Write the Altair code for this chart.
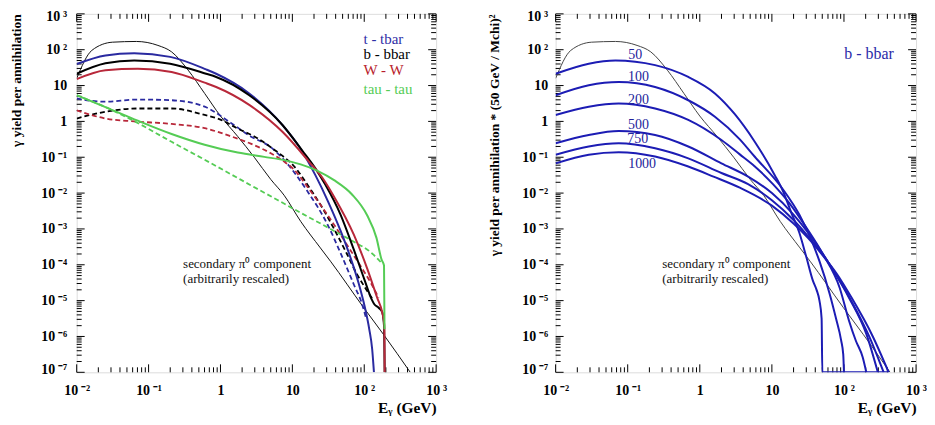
import json
import altair as alt
import numpy as np
import pandas as pd

# ------------------------------------------------------------------
# Values: log10(E / GeV) and log10(yield)
# ------------------------------------------------------------------
# thin black curve: secondary pi0 component (arbitrarily rescaled)
PI0_LOGE = [-2.0, -1.79, -1.5, -1.17, -0.87, -0.68, -0.45, -0.22, 0.0, 0.24, 0.47, 0.7, 0.885, 1.116, 1.39, 1.53, 1.99, 2.27, 2.64]
PI0_LOGY = [1.2, 1.98, 2.21, 2.23, 2.12, 1.94, 1.43, 0.78, 0.15, -0.42, -1.0, -1.62, -2.06, -2.79, -3.53, -3.9, -5.19, -5.95, -7.0]

# left panel, solid curves
TT_LOGE = [-2.0, -1.6, -1.2, -0.7, -0.2, -0.06, 0.4, 0.87, 1.1, 1.32, 1.5, 1.67, 1.8, 1.92, 2.01, 2.07, 2.11, 2.135]
TT_LOGY = [1.60, 1.84, 1.90, 1.80, 1.45, 1.33, 0.78, -0.12, -0.72, -1.5, -2.25, -3.05, -3.75, -4.5, -5.2, -5.8, -6.35, -7.0]
BB_LOGE = [-2.0, -1.6, -1.2, -0.7, -0.2, -0.06, 0.4, 0.862, 1.14, 1.32, 1.46, 1.67, 1.85, 2.0, 2.1, 2.14, 2.2, 2.25, 2.275, 2.284]
BB_LOGY = [1.33, 1.62, 1.70, 1.61, 1.33, 1.24, 0.73, -0.10, -0.82, -1.31, -1.77, -2.6, -3.55, -4.4, -4.95, -5.1, -5.2, -5.32, -5.7, -7.0]
WW_LOGE = [-2.0, -1.6, -1.15, -0.68, -0.22, -0.06, 0.4, 0.862, 1.23, 1.42, 1.58, 1.855, 2.04, 2.18, 2.25, 2.28, 2.284]
WW_LOGY = [1.18, 1.43, 1.47, 1.38, 1.08, 0.96, 0.46, -0.29, -1.12, -1.58, -2.1, -3.16, -4.1, -4.92, -5.33, -5.7, -7.0]
TAU_LOGE = [-2.0, -1.6, -1.15, -0.68, -0.22, 0.24, 0.61, 0.885, 1.116, 1.35, 1.58, 1.83, 2.04, 2.17, 2.24, 2.275, 2.282]
TAU_LOGY = [0.73, 0.40, 0.02, -0.35, -0.65, -0.87, -0.99, -1.08, -1.2, -1.38, -1.64, -2.04, -2.62, -3.25, -3.85, -4.02, -5.8]

# left panel, dashed curves
TT_D_LOGE = [-2.0, -1.61, -1.15, -0.68, -0.22, 0.15, 0.42, 0.7, 0.84, 1.21, 1.49, 1.67, 1.855, 1.97, 2.02]
TT_D_LOGY = [0.64, 0.55, 0.61, 0.59, 0.41, -0.05, -0.42, -0.72, -0.98, -1.95, -2.88, -3.67, -4.55, -5.1, -5.45]
BB_D_LOGE = [-2.0, -1.6, -1.15, -0.68, -0.22, 0.0, 0.24, 0.47, 0.7, 0.885, 1.0, 1.255, 1.39, 1.58, 1.76, 1.9, 2.0, 2.13]
BB_D_LOGY = [0.08, 0.27, 0.36, 0.36, 0.18, 0.05, -0.2, -0.42, -0.72, -1.0, -1.2, -1.9, -2.32, -3.0, -3.7, -4.27, -4.6, -5.0]
WW_D_LOGE = [-2.0, -1.6, -1.2, -0.68, -0.22, 0.15, 0.42, 0.7, 0.885, 1.0, 1.255, 1.58, 1.81, 2.0, 2.09, 2.2]
WW_D_LOGY = [0.31, 0.08, 0.0, -0.07, -0.19, -0.42, -0.62, -0.89, -1.12, -1.3, -1.95, -2.88, -3.6, -4.2, -4.5, -4.92]
TAU_D_LOGE = [-2.0, -1.6, -1.24, -0.68, -0.22, 0.15, 0.42, 0.8, 1.116, 1.53, 1.855, 2.09, 2.24]
TAU_D_LOGY = [0.73, 0.40, 0.05, -0.57, -1.07, -1.48, -1.78, -2.2, -2.55, -3.0, -3.36, -3.65, -3.95]

# right panel: b-bbar for several neutralino masses (GeV), yield * (50 GeV / M)^2
M50_LOGE = [-2.0, -1.54, -1.17, -0.62, -0.16, 0.21, 0.486, 0.76, 1.04, 1.155, 1.27, 1.38, 1.48, 1.57, 1.62, 1.66, 1.69, 1.70, 2.62]
M50_LOGY = [1.33, 1.61, 1.70, 1.57, 1.24, 0.78, 0.2, -0.56, -1.5, -1.95, -2.55, -3.1, -3.8, -4.45, -4.7, -5.0, -5.5, -7.0, -7.0]
M100_LOGE = [-2.0, -1.54, -1.125, -0.62, -0.16, 0.21, 0.555, 0.76, 1.155, 1.38, 1.545, 1.66, 1.80, 1.89, 1.96, 1.99, 2.0]
M100_LOGY = [0.73, 1.01, 1.10, 0.96, 0.59, 0.13, -0.5, -0.98, -1.9, -2.6, -3.3, -3.9, -4.8, -5.5, -6.1, -6.5, -7.0]
M200_LOGE = [-2.0, -1.54, -1.125, -0.62, -0.16, 0.30, 0.555, 0.76, 1.015, 1.25, 1.48, 1.71, 1.94, 2.07, 2.165, 2.26, 2.31]
M200_LOGY = [0.18, 0.41, 0.50, 0.36, 0.04, -0.52, -0.92, -1.25, -1.75, -2.3, -2.97, -3.71, -4.64, -5.56, -6.12, -6.58, -7.0]
M500_LOGE = [-2.0, -1.54, -1.125, -0.62, -0.16, 0.30, 0.67, 1.0, 1.3, 1.5, 1.71, 1.80, 2.07, 2.31, 2.47]
M500_LOGY = [-0.61, -0.38, -0.27, -0.38, -0.70, -1.17, -1.54, -2.0, -2.6, -3.1, -3.7, -3.99, -4.92, -5.93, -7.0]
M750_LOGE = [-2.0, -1.54, -1.125, -0.62, -0.16, 0.30, 0.67, 1.0, 1.3, 1.5, 1.71, 1.9, 2.1, 2.35, 2.55]
M750_LOGY = [-0.93, -0.70, -0.61, -0.75, -1.03, -1.44, -1.75, -2.2, -2.75, -3.2, -3.72, -4.3, -5.0, -6.0, -7.0]
M1000_LOGE = [-2.0, -1.54, -1.125, -0.62, -0.16, 0.19, 0.555, 1.0, 1.3, 1.5, 1.71, 1.9, 2.1, 2.4, 2.62]
M1000_LOGY = [-1.17, -0.93, -0.86, -0.98, -1.26, -1.54, -1.85, -2.35, -2.85, -3.25, -3.75, -4.25, -4.9, -6.0, -7.0]

# texts
LEG_TEXT = ["t - tbar", "b - bbar", "W - W", "tau - tau"]
LEG_LOGE = [1.99, 1.99, 1.99, 1.99]
LEG_LOGY = [2.289, 1.867, 1.444, 0.917]
NOTE_TEXT = ["secondary \u03c0\u2070 component", "(arbitrarily rescaled)"]
NOTE_LOGE = [-0.52, -0.52]
NOTE_LOGY = [-3.98, -4.40]
MASS_TEXT = ["50", "100", "200", "500", "750", "1000"]
MASS_LOGE = [-0.895, -0.85, -0.85, -0.85, -0.86, -0.80]
MASS_LOGY = [1.84, 1.24, 0.61, -0.106, -0.503, -1.18]
RLEG_TEXT = ["b - bbar"]
RLEG_LOGE = [2.005]
RLEG_LOGY = [1.87]

X_DECADES = [1e-2, 1e-1, 1.0, 1e1, 1e2, 1e3]
X_LABELS = ["10\u2009\u207b\u00b2", "10\u2009\u207b\u00b9", "1", "10", "10\u2009\u00b2", "10\u2009\u00b3"]
Y_DECADES = [1e-7, 1e-6, 1e-5, 1e-4, 1e-3, 1e-2, 1e-1, 1.0, 1e1, 1e2, 1e3]
Y_LABELS = ["10\u2009\u207b\u2077", "10\u2009\u207b\u2076", "10\u2009\u207b\u2075", "10\u2009\u207b\u2074",
            "10\u2009\u207b\u00b3", "10\u2009\u207b\u00b2", "10\u2009\u207b\u00b9", "1", "10",
            "10\u2009\u00b2", "10\u2009\u00b3"]

# ------------------------------------------------------------------
FONT = "Liberation Serif"
H = 360
XS = alt.Scale(type="log", domain=[1e-2, 1e3], nice=False)
YS = alt.Scale(type="log", domain=[1e-7, 1e3], nice=False)

X_MINOR = [k * d for d in X_DECADES[:-1] for k in range(2, 10)]
Y_MINOR = [k * d for d in Y_DECADES[:-1] for k in range(2, 10)]


def curve(name, loge, logy):
    return pd.DataFrame({"E": 10.0 ** np.asarray(loge, dtype=float),
                         "Y": 10.0 ** np.asarray(logy, dtype=float),
                         "series": name, "i": np.arange(len(loge))})


def points(texts, loge, logy):
    return pd.DataFrame({"E": 10.0 ** np.asarray(loge, dtype=float),
                         "Y": 10.0 ** np.asarray(logy, dtype=float),
                         "label": texts})


def panel(width, ytitle, solid, solid_color, dashed, dashed_names, dashed_colors,
          thin_color, text_layers, yext, ylabpad):
    xa = alt.Axis(values=X_DECADES, labelExpr=json.dumps(X_LABELS, ensure_ascii=False) + "[round(log(datum.value)/LN10)+2]",
                  ticks=False, tickSize=0, domain=False, grid=False, labelFont=FONT, labelFontWeight="bold",
                  labelFontSize=14, labelColor="black", labelPadding=11, labelFlush=False, labelOverlap=False,
                  title="E\u1d67 (GeV)", titleFont=FONT, titleFontWeight="bold", titleFontSize=15.5,
                  titleColor="black", titleAnchor="end", titlePadding=3)
    ya = alt.Axis(values=Y_DECADES, labelExpr=json.dumps(Y_LABELS, ensure_ascii=False) + "[round(log(datum.value)/LN10)+7]",
                  ticks=False, tickSize=0, domain=False, grid=False, labelFont=FONT, labelFontWeight="bold",
                  labelFontSize=14, labelColor="black", labelPadding=ylabpad, labelFlush=True, labelFlushOffset=4,
                  labelOverlap=False,
                  title=ytitle, titleFont=FONT, titleFontWeight="bold", titleFontSize=13.5, titleColor="black",
                  titleAnchor="end", titlePadding=7, minExtent=yext, maxExtent=yext)
    X = alt.X("E:Q", scale=XS, axis=xa)
    Y = alt.Y("Y:Q", scale=YS, axis=ya)

    layers = []
    xmaj = pd.DataFrame({"E": X_DECADES})
    xmin = pd.DataFrame({"E": X_MINOR})
    ymaj = pd.DataFrame({"Y": Y_DECADES})
    ymin = pd.DataFrame({"Y": Y_MINOR})
    for df, ln in ((xmaj, 8), (xmin, 5)):
        layers.append(alt.Chart(df).mark_rule(color="black", strokeWidth=1).encode(
            x=X, y=alt.value(H), y2=alt.value(H - ln)))
        layers.append(alt.Chart(df).mark_rule(color="black", strokeWidth=1).encode(
            x=X, y=alt.value(0), y2=alt.value(ln)))
    for df, ln in ((ymaj, 8), (ymin, 5)):
        layers.append(alt.Chart(df).mark_rule(color="black", strokeWidth=1).encode(
            y=Y, x=alt.value(0), x2=alt.value(ln)))
        layers.append(alt.Chart(df).mark_rule(color="black", strokeWidth=1).encode(
            y=Y, x=alt.value(width), x2=alt.value(width - ln)))

    layers.append(alt.Chart(curve("pi0", PI0_LOGE, PI0_LOGY)).mark_line(
        interpolate="monotone", clip=True, strokeWidth=1, color=thin_color).encode(x=X, y=Y, order="i:Q"))

    if dashed is not None:
        layers.append(alt.Chart(dashed).mark_line(interpolate="monotone", clip=True, strokeWidth=1.8,
                                                  strokeDash=[5, 3]).encode(
            x=X, y=Y, order="i:Q",
            color=alt.Color("series:N", scale=alt.Scale(domain=dashed_names, range=dashed_colors), legend=None)))

    if isinstance(solid_color, tuple):
        names, cols = solid_color
        layers.append(alt.Chart(solid).mark_line(interpolate="monotone", clip=True, strokeWidth=2).encode(
            x=X, y=Y, order="i:Q",
            color=alt.Color("series:N", scale=alt.Scale(domain=names, range=cols), legend=None)))
    else:
        layers.append(alt.Chart(solid).mark_line(interpolate="monotone", clip=True, strokeWidth=2,
                                                 color=solid_color).encode(
            x=X, y=Y, order="i:Q", detail="series:N"))

    for df, col, size, align in text_layers:
        layers.append(alt.Chart(df).mark_text(font=FONT, fontSize=size, color=col, align=align,
                                              baseline="middle").encode(x=X, y=Y, text="label:N"))

    return alt.layer(*layers).properties(width=width, height=H)


# ---------------- left panel ----------------
L_SOLID_NAMES = ["t - tbar", "b - bbar", "W - W", "tau - tau"]
L_DASH_NAMES = ["t - tbar dashed", "b - bbar dashed", "W - W dashed", "tau - tau dashed"]
left_solid = pd.concat([curve("t - tbar", TT_LOGE, TT_LOGY), curve("b - bbar", BB_LOGE, BB_LOGY),
                        curve("W - W", WW_LOGE, WW_LOGY), curve("tau - tau", TAU_LOGE, TAU_LOGY)])
left_dashed = pd.concat([curve("t - tbar dashed", TT_D_LOGE, TT_D_LOGY), curve("b - bbar dashed", BB_D_LOGE, BB_D_LOGY),
                         curve("W - W dashed", WW_D_LOGE, WW_D_LOGY), curve("tau - tau dashed", TAU_D_LOGE, TAU_D_LOGY)])

leg = points(LEG_TEXT, LEG_LOGE, LEG_LOGY)
LEG_COLORS = ["#2e2ea6", "#000000", "#b81c2c", "#55cc55"]
left_texts = [(leg.iloc[[k]], LEG_COLORS[k], 15, "left") for k in range(4)]
left_texts.append((points(NOTE_TEXT, NOTE_LOGE, NOTE_LOGY), "#111111", 13, "left"))

left = panel(361, "\u03b3 yield per annihilation", left_solid,
             (L_SOLID_NAMES, ["#2222c4", "#000000", "#d0202c", "#3ee03e"]),
             left_dashed, L_DASH_NAMES, ["#2a2aa0", "#000000", "#b8283a", "#55cc55"],
             "#111111", left_texts, 46.5, 10)

# ---------------- right panel ----------------
right_solid = pd.concat([curve("50", M50_LOGE, M50_LOGY), curve("100", M100_LOGE, M100_LOGY),
                         curve("200", M200_LOGE, M200_LOGY), curve("500", M500_LOGE, M500_LOGY),
                         curve("750", M750_LOGE, M750_LOGY), curve("1000", M1000_LOGE, M1000_LOGY)])
right_texts = [(points(MASS_TEXT, MASS_LOGE, MASS_LOGY), "#22229a", 14, "center"),
               (points(RLEG_TEXT, RLEG_LOGE, RLEG_LOGY), "#2a2aa8", 16, "left"),
               (points(NOTE_TEXT, NOTE_LOGE, NOTE_LOGY), "#111111", 13, "left")]

right = panel(362, "\u03b3 yield per annihilation * (50 GeV / Mchi)\u00b2", right_solid, "#1c1cb4",
              None, None, None, "#444444", right_texts, 47, 8)

chart = alt.hconcat(left, right, spacing=40).properties(
    padding={"left": 0, "top": 0, "right": 0, "bottom": 0}
).configure_view(stroke="black", strokeWidth=1.5).configure(background="white")

chart.save("out.html", embed_options={"renderer": "svg", "actions": False})
